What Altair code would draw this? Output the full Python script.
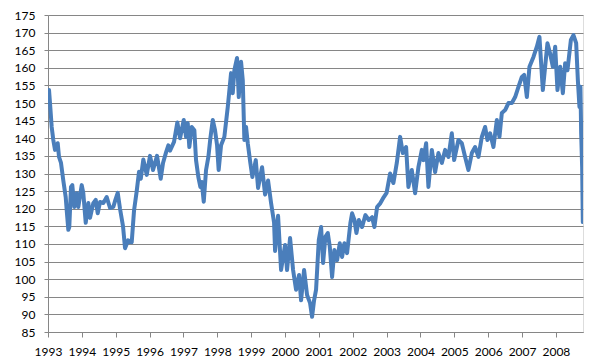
import altair as alt
import pandas as pd

years = [
    1993.000, 1993.030, 1993.059, 1993.109, 1993.157, 1993.207, 1993.287, 1993.325, 1993.384, 1993.452,
    1993.523, 1993.552, 1993.600, 1993.629, 1993.679, 1993.718, 1993.777, 1993.848, 1993.895, 1993.996,
    1994.043, 1994.114, 1994.191, 1994.241, 1994.338, 1994.409, 1994.468, 1994.536, 1994.634, 1994.734,
    1994.832, 1994.929, 1994.990, 1995.059, 1995.127, 1995.216, 1995.275, 1995.363, 1995.473, 1995.541,
    1995.620, 1995.688, 1995.740, 1995.815, 1995.916, 1996.013, 1996.102, 1996.220, 1996.329, 1996.397,
    1996.486, 1996.554, 1996.604, 1996.722, 1996.820, 1996.900, 1997.009, 1997.077, 1997.127, 1997.174,
    1997.245, 1997.322, 1997.372, 1997.440, 1997.499, 1997.540, 1997.600, 1997.668, 1997.736, 1997.795,
    1997.866, 1997.933, 1997.993, 1998.040, 1998.111, 1998.208, 1998.309, 1998.406, 1998.456, 1998.504,
    1998.583, 1998.634, 1998.702, 1998.752, 1998.799, 1998.849, 1998.900, 1998.976, 1999.035, 1999.136,
    1999.204, 1999.322, 1999.411, 1999.499, 1999.588, 1999.677, 1999.706, 1999.795, 1999.883, 2000.001,
    2000.060, 2000.149, 2000.238, 2000.326, 2000.415, 2000.474, 2000.563, 2000.651, 2000.740, 2000.799,
    2000.858, 2000.917, 2000.997, 2001.065, 2001.124, 2001.192, 2001.263, 2001.322, 2001.390, 2001.458,
    2001.538, 2001.617, 2001.685, 2001.753, 2001.833, 2001.930, 2001.981, 2002.049, 2002.108, 2002.179,
    2002.276, 2002.374, 2002.474, 2002.572, 2002.640, 2002.719, 2002.817, 2002.917, 2003.000, 2003.103,
    2003.201, 2003.301, 2003.399, 2003.479, 2003.576, 2003.644, 2003.744, 2003.842, 2003.939, 2004.040,
    2004.087, 2004.167, 2004.235, 2004.335, 2004.433, 2004.530, 2004.631, 2004.728, 2004.826, 2004.926,
    2004.994, 2005.121, 2005.221, 2005.319, 2005.416, 2005.517, 2005.614, 2005.712, 2005.812, 2005.910,
    2005.978, 2006.058, 2006.155, 2006.256, 2006.333, 2006.403, 2006.501, 2006.598, 2006.699, 2006.796,
    2006.894, 2006.994, 2007.062, 2007.142, 2007.219, 2007.337, 2007.437, 2007.514, 2007.614, 2007.682,
    2007.750, 2007.830, 2007.910, 2007.978, 2008.046, 2008.126, 2008.205, 2008.273, 2008.341, 2008.442,
    2008.518, 2008.598, 2008.648, 2008.695, 2008.725, 2008.746, 2008.775, 2008.795,
]

values = [
    150.5, 153.7, 150.0, 143.2, 139.5, 136.7, 138.6, 134.7, 133.0, 128.0,
    123.3, 119.6, 114.0, 114.8, 126.2, 126.7, 120.5, 124.4, 120.5, 126.7,
    124.4, 116.0, 121.6, 117.4, 121.6, 122.5, 118.7, 121.9, 121.6, 123.3,
    120.2, 120.5, 122.5, 124.5, 120.0, 115.0, 108.8, 111.0, 110.5, 119.5,
    125.0, 130.5, 128.5, 134.0, 129.6, 135.0, 131.0, 135.0, 128.5, 133.0,
    136.0, 138.0, 136.5, 139.0, 144.5, 140.0, 145.2, 140.4, 144.3, 137.5,
    143.2, 142.3, 133.8, 129.0, 126.2, 127.6, 122.0, 131.0, 134.7, 140.0,
    145.2, 142.3, 138.0, 131.0, 138.0, 140.4, 148.9, 158.5, 152.8, 159.3,
    162.8, 151.7, 161.7, 156.5, 139.5, 143.2, 138.6, 133.0, 129.0, 133.8,
    125.9, 131.8, 124.0, 128.0, 121.6, 116.0, 108.0, 118.0, 102.6, 109.7,
    102.6, 111.7, 102.6, 97.0, 101.2, 94.0, 102.6, 95.5, 93.2, 89.3,
    94.0, 97.0, 111.1, 114.8, 104.6, 112.0, 113.1, 109.2, 100.6, 108.3,
    105.4, 110.2, 106.3, 110.2, 107.4, 115.9, 118.7, 116.8, 113.1, 116.8,
    114.8, 118.2, 116.8, 117.6, 114.8, 120.5, 121.6, 123.3, 124.5, 130.0,
    127.3, 133.0, 140.4, 135.8, 137.5, 126.2, 131.0, 124.4, 131.8, 136.7,
    133.8, 138.6, 126.2, 136.7, 130.4, 135.8, 133.0, 136.7, 134.7, 141.4,
    133.8, 139.5, 138.6, 134.7, 131.0, 135.8, 137.5, 134.7, 140.4, 143.2,
    139.5, 141.4, 137.5, 145.2, 140.4, 147.2, 148.0, 150.0, 150.0, 151.7,
    154.6, 157.4, 158.0, 151.7, 160.3, 163.1, 166.0, 168.8, 153.7, 160.3,
    167.0, 164.0, 160.3, 166.0, 153.7, 160.3, 152.8, 161.3, 159.3, 167.9,
    169.3, 167.0, 156.5, 148.9, 154.6, 141.4, 131.8, 116.2,
]

year_ticks = list(range(1993, 2009))
y_ticks = list(range(85, 176, 5))

df = pd.DataFrame({"year": years, "value": values})

FONT = "Lato"

chart = (
    alt.Chart(df)
    .mark_line(color="#4a7ebb", strokeWidth=4, strokeJoin="round", strokeCap="round", clip=True)
    .encode(
        x=alt.X(
            "year:Q",
            scale=alt.Scale(domain=[1993, 2008.8], nice=False, zero=False),
            axis=alt.Axis(
                values=year_ticks,
                format="d",
                title=None,
                grid=False,
                domainColor="#868686",
                tickColor="#868686",
                tickSize=5,
                labelPadding=9,
                labelFontSize=12,
                labelFont=FONT,
                labelColor="#000000",
                labelFlush=False,
            ),
        ),
        y=alt.Y(
            "value:Q",
            scale=alt.Scale(domain=[85, 175], nice=False, zero=False),
            axis=alt.Axis(
                values=y_ticks,
                title=None,
                grid=True,
                gridColor="#868686",
                gridWidth=1,
                domainColor="#868686",
                tickColor="#868686",
                tickSize=4,
                labelPadding=9,
                labelFontSize=12,
                labelFont=FONT,
                labelColor="#000000",
            ),
        ),
    )
    .properties(
        width=535,
        height=317,
        autosize=alt.AutoSizeParams(type="none"),
        padding={"left": 40, "top": 7, "right": 9, "bottom": 25},
    )
    .configure_view(stroke=None)
    .configure(background="white")
)

chart.save("out.html", embed_options={"renderer": "svg", "actions": False})
